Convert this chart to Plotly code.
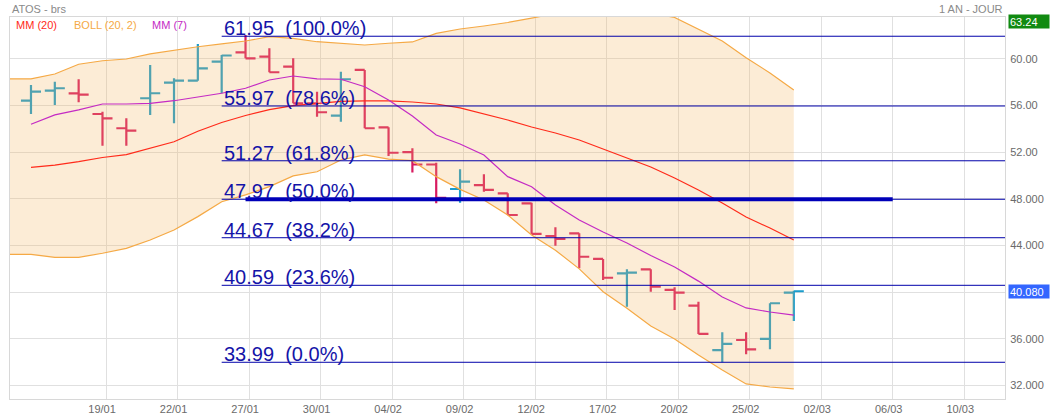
import plotly.graph_objects as go

# ── Theme ────────────────────────────────────────────────────────────────
FONT = "Arial, Liberation Sans, sans-serif"
GRID = "#e0e0e0"
AXIS_TXT = "#6a6a6a"
UP_COLOR = "#1a9ccc"
DOWN_COLOR = "#d81b60"
MA20_COLOR = "#ff2a1a"
MA7_COLOR = "#c42ac4"
BOLL_LINE = "#f5a945"
BOLL_FILL = "rgba(243,179,91,0.25)"
FIB_COLOR = "#0000aa"
FIB_TXT = "#1414a8"

# ── Data (one entry per trading session) ────────────────────────────────
bar_idx = list(range(33))

open_ = [56.42, 57.28, 57.05, 55.28, 54.06, 56.63, 57.97, 58.14, 59.77, 60.57,
         60.20, 59.34, 56.20, 55.14, 59.06, 54.14, 52.02, 50.95, 48.85, 49.19,
         48.48, 47.62, 44.82, 45.05, 42.85, 41.62, 41.96, 40.19, 38.84, 35.04,
         35.90, 35.99, 39.96]
high = [57.77, 58.05, 58.26, 55.48, 54.91, 59.49, 58.34, 61.29, 60.34, 62.06,
        60.92, 60.06, 57.20, 58.91, 59.06, 54.14, 52.34, 51.10, 50.54, 50.11,
        48.48, 47.68, 45.57, 45.05, 42.85, 41.96, 41.96, 40.42, 39.19, 36.56,
        36.56, 39.05, 40.13]
low = [55.28, 56.05, 56.29, 52.56, 52.56, 55.20, 54.49, 58.14, 57.06, 60.06,
       58.86, 56.20, 55.05, 54.62, 54.06, 51.68, 50.27, 47.62, 47.68, 48.62,
       46.62, 45.00, 43.99, 42.05, 41.05, 38.76, 40.04, 38.47, 36.42, 33.99,
       34.67, 35.10, 37.53]
close = [57.20, 57.49, 56.95, 54.91, 53.85, 57.06, 58.14, 59.20, 60.30, 60.06,
         58.86, 56.20, 55.43, 58.26, 54.06, 51.96, 50.95, 48.08, 49.48, 48.77,
         46.62, 45.00, 44.56, 43.04, 41.24, 41.67, 40.47, 39.96, 36.42, 35.56,
         35.10, 39.05, 40.08]

ma20 = [50.71, 50.90, 51.20, 51.55, 51.80, 52.35, 52.90, 53.80, 54.55, 55.15,
        55.65, 56.00, 56.20, 56.37, 56.41, 56.40, 56.31, 56.14, 55.80, 55.28,
        54.77, 54.17, 53.65, 53.05, 52.28, 51.50, 50.74, 49.80, 48.77, 47.65,
        46.45, 45.50, 44.48]
ma7 = [54.40, 55.20, 55.63, 56.14, 56.14, 56.20, 56.42, 56.72, 57.06, 57.49,
       58.20, 58.54, 58.30, 58.26, 57.62, 56.48, 55.11, 53.48, 52.71, 51.77,
       49.91, 49.05, 47.48, 46.19, 45.16, 44.22, 43.15, 42.16, 40.95, 39.59,
       38.65, 38.30, 38.04]

# Bollinger (20, 2) starts one session earlier than the visible bars
boll_idx = list(range(-1, 33))
boll_up = [58.30, 58.30, 58.71, 59.55, 59.85, 60.00, 60.43, 60.77, 61.05, 61.29,
           61.54, 61.91, 61.76, 61.48, 61.33, 61.20, 61.35, 61.46, 62.20, 62.57,
           62.83, 63.13, 63.50, 63.90, 64.20, 64.35, 64.25, 63.95, 63.56, 62.55,
           61.54, 60.11, 58.80, 57.34]
boll_lo = [43.25, 43.25, 42.99, 42.99, 43.34, 43.76, 44.48, 45.33, 46.48, 47.76,
           48.34, 49.05, 49.97, 50.33, 51.34, 51.77, 51.42, 51.28, 49.91, 48.82,
           47.91, 46.62, 44.90, 43.60, 42.00, 40.04, 38.62, 37.10, 35.99, 34.61,
           33.33, 32.13, 31.87, 31.70]

fib_levels = [61.95, 55.97, 51.27, 47.97, 44.67, 40.59, 33.99]
fib_pct = ["100.0%", "78.6%", "61.8%", "50.0%", "38.2%", "23.6%", "0.0%"]
fib_start = 8          # session where the retracement drawing starts
fib_key = 47.97        # highlighted 50% level

x_ticks = ["19/01", "22/01", "27/01", "30/01", "04/02", "09/02", "12/02",
           "17/02", "20/02", "25/02", "02/03", "06/03", "10/03"]
y_ticks = [32, 36, 40, 44, 48, 52, 56, 60]
y_ticktext = ["32.000", "36.000", "", "44.000", "48.000", "52.00", "56.00", "60.00"]
band_top_value = 63.24

tick_pos = [3 * (k + 1) + 0.15 for k in range(len(x_ticks))]

fig = go.Figure()

# Bollinger band envelope
fig.add_trace(go.Scatter(
    x=boll_idx + boll_idx[::-1],
    y=boll_up + boll_lo[::-1],
    fill="toself", fillcolor=BOLL_FILL,
    line=dict(width=0), mode="lines",
    showlegend=False, hoverinfo="skip",
))
for band in (boll_up, boll_lo):
    fig.add_trace(go.Scatter(
        x=boll_idx, y=band, mode="lines",
        line=dict(color=BOLL_LINE, width=1.2),
        showlegend=False, hoverinfo="skip",
    ))

# Moving averages
fig.add_trace(go.Scatter(x=bar_idx, y=ma20, mode="lines",
                         line=dict(color=MA20_COLOR, width=1.2),
                         showlegend=False, hoverinfo="skip"))
fig.add_trace(go.Scatter(x=bar_idx, y=ma7, mode="lines",
                         line=dict(color=MA7_COLOR, width=1.2),
                         showlegend=False, hoverinfo="skip"))

# Price bars
fig.add_trace(go.Ohlc(
    x=bar_idx, open=open_, high=high, low=low, close=close,
    increasing=dict(line=dict(color=UP_COLOR, width=2.2)),
    decreasing=dict(line=dict(color=DOWN_COLOR, width=2.2)),
    tickwidth=0.42, showlegend=False, hoverinfo="skip",
))

# Fibonacci retracement lines
fx, fy = [], []
for lvl in fib_levels:
    fx += [fib_start, 45, None]
    fy += [lvl, lvl, None]
fig.add_trace(go.Scatter(x=fx, y=fy, mode="lines",
                         line=dict(color=FIB_COLOR, width=1),
                         showlegend=False, hoverinfo="skip"))
fig.add_trace(go.Scatter(x=[fib_start + 1, tick_pos[11]], y=[fib_key, fib_key],
                         mode="lines", line=dict(color="#0000b8", width=4),
                         showlegend=False, hoverinfo="skip"))

for lvl, pct in zip(fib_levels, fib_pct):
    fig.add_annotation(
        x=fib_start, y=lvl, xref="x", yref="y",
        text=f"{lvl:.2f}\u00a0\u00a0({pct})",
        showarrow=False, xanchor="left", yanchor="bottom", yshift=-5,
        font=dict(family=FONT, size=20, color=FIB_TXT),
    )

# Header texts
fig.add_annotation(x=0, y=1.021, xref="paper", yref="paper", text="ATOS - brs",
                   showarrow=False, xanchor="left", yanchor="middle",
                   font=dict(family=FONT, size=11, color="#8a8a8a"))
fig.add_annotation(x=1, y=1.021, xref="paper", yref="paper", text="1 AN - JOUR",
                   showarrow=False, xanchor="right", yanchor="middle",
                   font=dict(family=FONT, size=11, color="#8a8a8a"))
for txt, xp, col in [("MM (20)", 0.004, MA20_COLOR),
                     ("BOLL (20, 2)", 0.062, BOLL_LINE),
                     ("MM (7)", 0.141, MA7_COLOR)]:
    fig.add_annotation(x=xp, y=0.979, xref="paper", yref="paper", text=txt,
                       showarrow=False, xanchor="left", yanchor="middle",
                       font=dict(family=FONT, size=11, color=col))

# Price tags on the right axis
fig.add_annotation(x=1.003, y=band_top_value, xref="paper", yref="y",
                   text=f"{band_top_value:.2f}", showarrow=False,
                   xanchor="left", yanchor="middle", align="left",
                   width=38, height=11, bgcolor="#118a11", borderpad=1,
                   font=dict(family=FONT, size=11, color="white"))
fig.add_annotation(x=1.003, y=close[-1], xref="paper", yref="y",
                   text=f"{close[-1]:.3f}", showarrow=False,
                   xanchor="left", yanchor="middle", align="left",
                   width=38, height=11, bgcolor="#3366ff", borderpad=1,
                   font=dict(family=FONT, size=11, color="white"))

fig.update_layout(
    width=1051, height=420,
    paper_bgcolor="white", plot_bgcolor="white",
    margin=dict(l=10, r=46, t=17, b=21, autoexpand=False),
    font=dict(family=FONT, size=11, color=AXIS_TXT),
    showlegend=False,
    xaxis=dict(
        range=[-0.88, 40.86], rangeslider=dict(visible=False),
        tickvals=tick_pos, ticktext=x_ticks, automargin=False,
        showgrid=True, gridcolor=GRID, gridwidth=1, zeroline=False,
        showline=True, linecolor="#d8d8d8", mirror=True,
        ticks="", ticklabelshift=-4,
        tickfont=dict(family=FONT, size=11, color=AXIS_TXT),
    ),
    yaxis=dict(
        range=[30.84, 63.60], side="right", automargin=False,
        tickvals=y_ticks, ticktext=y_ticktext,
        showgrid=True, gridcolor=GRID, gridwidth=1, zeroline=False,
        showline=True, linecolor="#d8d8d8", mirror=True,
        ticks="outside", ticklen=2, tickcolor="rgba(0,0,0,0)",
        tickfont=dict(family=FONT, size=11, color=AXIS_TXT),
    ),
)

# the page body has a default 8px margin; drop it so the figure fills the window
fig.write_html("out.html",
               config={"displayModeBar": False},
               post_script="document.body.style.margin='0';"
                           "document.body.style.overflow='hidden';")
